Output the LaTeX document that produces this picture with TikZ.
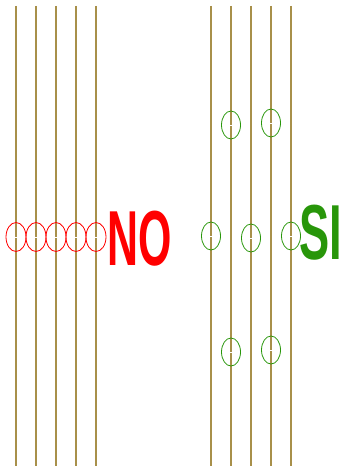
\documentclass[tikz,border=0pt]{standalone}
\usepackage{fontspec}
\setmainfont{Liberation Sans}
\usetikzlibrary{shapes.geometric}

\definecolor{wire}{RGB}{168,144,74}
\definecolor{okgreen}{RGB}{40,150,10}

\tikzset{
    wire/.style={draw=wire, line width=2.2pt},
    thinwire/.style={draw=wire, line width=1.7pt},
    ring/.style={ellipse, draw, line width=0.8pt, inner sep=0pt,
        minimum width=20pt, minimum height=29pt},
    gap/.style={draw=white, line width=0.9pt},
    verdict/.style={font=\bfseries\fontsize{78}{78}\selectfont, inner sep=0pt}
}

\begin{document}
\begin{tikzpicture}[x=1pt, y=-1pt]
        \useasboundingbox (0,0) rectangle (345,468);
        % wires, left bundle
        \coordinate (a_1) at (16,6);   \coordinate (b_1) at (16,466);
        \coordinate (a_2) at (36,6);   \coordinate (b_2) at (36,466);
        \coordinate (a_3) at (56,6);   \coordinate (b_3) at (56,466);
        \coordinate (a_4) at (76,6);   \coordinate (b_4) at (76,466);
        \coordinate (a_5) at (96,6);   \coordinate (b_5) at (96,466);
        % wires, right bundle
        \coordinate (c_1) at (211,6);  \coordinate (d_1) at (211,466);
        \coordinate (c_2) at (231,6);  \coordinate (d_2) at (231,466);
        \coordinate (c_3) at (251,6);  \coordinate (d_3) at (251,466);
        \coordinate (c_4) at (271,6);  \coordinate (d_4) at (271,466);
        \coordinate (c_5) at (291,6);  \coordinate (d_5) at (291,466);
        \path[wire] (a_1) -- (b_1) (a_2) -- (b_2) (a_3) -- (b_3);
        \path[thinwire] (a_4) -- (b_4) (a_5) -- (b_5);
        \path[wire] (c_1) -- (d_1) (c_2) -- (d_2) (c_3) -- (d_3);
        \path[thinwire] (c_4) -- (d_4) (c_5) -- (d_5);

        % all splices in one row
        \node[ring, red] (p_1) at (16,237) {};
        \node[ring, red] (p_2) at (36,237) {};
        \node[ring, red] (p_3) at (56,237) {};
        \node[ring, red] (p_4) at (76,237) {};
        \node[ring, red] (p_5) at (96,237) {};
        % staggered splices
        \node[ring, okgreen, minimum width=19pt, minimum height=28pt] (q_1) at (211,236) {};
        \node[ring, okgreen, minimum width=19pt, minimum height=28pt] (q_2) at (231,125) {};
        \node[ring, okgreen, minimum width=19pt, minimum height=28pt] (q_3) at (251,238) {};
        \node[ring, okgreen, minimum width=19pt, minimum height=28pt] (q_4) at (271,123) {};
        \node[ring, okgreen, minimum width=19pt, minimum height=28pt] (q_5) at (291,236) {};
        \node[ring, okgreen, minimum width=19pt, minimum height=28pt] (q_6) at (231,352) {};
        \node[ring, okgreen, minimum width=19pt, minimum height=28pt] (q_7) at (271,350) {};

        \path[gap] ([xshift=-2pt]p_1.center) -- ([xshift=2pt]p_1.center)
                   ([xshift=-2pt]p_2.center) -- ([xshift=2pt]p_2.center)
                   ([xshift=-2pt]p_3.center) -- ([xshift=2pt]p_3.center)
                   ([xshift=-2pt]p_4.center) -- ([xshift=2pt]p_4.center)
                   ([xshift=-2pt]p_5.center) -- ([xshift=2pt]p_5.center)
                   ([xshift=-2pt]q_1.center) -- ([xshift=2pt]q_1.center)
                   ([xshift=-2pt]q_2.center) -- ([xshift=2pt]q_2.center)
                   ([xshift=-2pt]q_3.center) -- ([xshift=2pt]q_3.center)
                   ([xshift=-2pt]q_4.center) -- ([xshift=2pt]q_4.center)
                   ([xshift=-2pt]q_5.center) -- ([xshift=2pt]q_5.center)
                   ([xshift=-2pt]q_6.center) -- ([xshift=2pt]q_6.center)
                   ([xshift=-2pt]q_7.center) -- ([xshift=2pt]q_7.center);

        \node[verdict, text=red, xscale=0.55] (no) at (140,239) {NO};
        \node[verdict, text=okgreen, xscale=0.58] (si) at (321,233) {SI};
\end{tikzpicture}
\end{document}
